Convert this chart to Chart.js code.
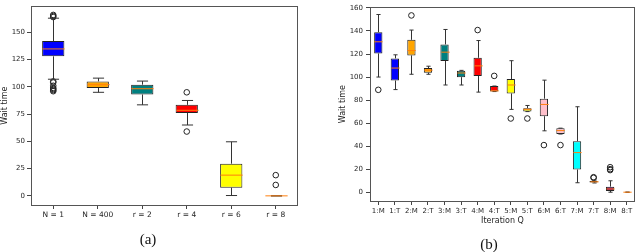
<!DOCTYPE html>
<html>
<head>
<meta charset="utf-8">
<script src="https://cdn.jsdelivr.net/npm/chart.js@4.4.1/dist/chart.umd.min.js"></script>
<style>
  html, body { margin: 0; padding: 0; background: #fff; width: 640px; height: 252px; overflow: hidden; }
  canvas { position: absolute; top: 0; }
  #ca { left: 0; }
  #cb { left: 320px; }
  .cap { position: absolute; font-family: "Liberation Serif", "DejaVu Serif", serif; font-size: 15px; color: #111; transform: translate(-50%, -50%); }
</style>
</head>
<body>
<canvas id="ca" width="320" height="252"></canvas>
<canvas id="cb" width="320" height="252"></canvas>
<div class="cap" style="left:148px; top:239px;">(a)</div>
<div class="cap" style="left:489px; top:244px;">(b)</div>
<script>
// ---------- Chart (a) ----------
const catsA = ['N = 1', 'N = 400', 'r = 2', 'r = 4', 'r = 6', 'r = 8'];
const q1A  = [128, 99, 93, 76, 7.5, 0];
const q3A  = [142, 105, 102, 83.5, 29.5, 0];
const medA = [134.8, 102, 98.3, 78.5, 19, 0];
const loA  = [107, 95, 83.5, 65, 0.3, 0];
const hiA  = [163, 108, 105.3, 87.5, 49.6, 0];
const outA = [[165, 164, 166, 105, 104, 101, 99, 98, 97, 96], [], [], [95, 59], [], [19, 10]];
const colorsA = ['#0000ff', '#ffa500', '#008080', '#ff0000', '#ffff00', '#800080'];
const yTicksA = [0, 25, 50, 75, 100, 125, 150];

// ---------- Chart (b) ----------
const catsB = ['1:M','1:T','2:M','2:T','3:M','3:T','4:M','4:T','5:M','5:T','6:M','6:T','7:M','7:T','8:M','8:T'];
const q1B  = [120.5, 97, 118.8, 103.8, 114, 99.9, 101, 87.4, 85.8, 70, 66, 50.5, 19.7, 8.5, 1.1, 0];
const q3B  = [139, 116.2, 132.3, 107.8, 128.3, 105.5, 116.7, 92.2, 98.2, 73, 81.2, 55.6, 44.3, 9.8, 4.8, 0];
const medB = [130.6, 107.8, 123, 106, 121.6, 103.5, 109.7, 88, 93.1, 72, 76.2, 53.5, 34.4, 9, 2.8, 0];
const loB  = [100, 89.1, 102.4, 102.4, 93.1, 93.1, 86.9, 87.4, 71.9, 70, 53.3, 50.5, 8.2, 8, 0, 0];
const hiB  = [154.3, 119.3, 140.8, 109.4, 141.3, 105.8, 131.7, 92.2, 114.2, 75.3, 97.3, 55.6, 74.2, 10.5, 9.9, 0];
const outB = [[88.9], [], [153.5], [], [], [], [140.8], [101], [64], [64], [40.9], [40.9], [], [13, 12.5], [20, 21.7, 19.2], []];
const colorsB = ['#0000ff','#0000ff','#ffa500','#ffa500','#008080','#008080','#ff0000','#ff0000',
                 '#ffff00','#ffff00','#ffc0cb','#ffc0cb','#00ffff','#00ffff','#800080','#800080'];
const yTicksB = [0, 20, 40, 60, 80, 100, 120, 140, 160];

const FONT = '"DejaVu Sans", sans-serif';
const TXT = '#262626';

const boxPlugin = {
  id: 'boxExtras',
  afterDatasetsDraw(chart, args, o) {
    const {ctx, scales: {x, y}, chartArea} = chart;
    const step = x.getPixelForValue(1) - x.getPixelForValue(0);
    const half = step * 0.25;
    ctx.save();
    ctx.lineWidth = 1;
    o.cats.forEach((c, i) => {
      const cx = Math.round(x.getPixelForValue(i)) + 0.5;
      const yq1 = y.getPixelForValue(o.q1[i]);
      const yq3 = y.getPixelForValue(o.q3[i]);
      const ylo = y.getPixelForValue(o.lo[i]);
      const yhi = y.getPixelForValue(o.hi[i]);
      ctx.strokeStyle = '#333';
      ctx.beginPath();
      ctx.moveTo(cx, yq3); ctx.lineTo(cx, yhi);
      ctx.moveTo(cx, yq1); ctx.lineTo(cx, ylo);
      ctx.moveTo(cx - half / 2, yhi); ctx.lineTo(cx + half / 2, yhi);
      ctx.moveTo(cx - half / 2, ylo); ctx.lineTo(cx + half / 2, ylo);
      ctx.stroke();
      const ym = y.getPixelForValue(o.med[i]);
      ctx.strokeStyle = '#ff7f0e';
      ctx.beginPath();
      ctx.moveTo(cx - half, ym); ctx.lineTo(cx + half, ym);
      ctx.stroke();
    });
    // frame
    ctx.strokeStyle = '#555';
    ctx.strokeRect(Math.round(chartArea.left) + 0.5, Math.round(chartArea.top) + 0.5,
                   Math.round(chartArea.right - chartArea.left) - 1, Math.round(chartArea.bottom - chartArea.top));
    ctx.restore();
  }
};

function makeChart(id, cats, q1, q3, med, lo, hi, out, colors, yTicks, cfg) {
  const boxes = cats.map((c, i) => [q1[i], q3[i]]);
  const pts = [];
  out.forEach((arr, i) => arr.forEach(v => pts.push({x: cats[i], y: v})));
  return new Chart(document.getElementById(id), {
    type: 'bar',
    data: {
      labels: cats,
      datasets: [
        { type: 'bar', data: boxes, backgroundColor: colors, borderColor: '#222', borderWidth: 1,
          borderSkipped: false, barPercentage: 0.5, categoryPercentage: 1.0, order: 2 },
        { type: 'scatter', data: pts, pointRadius: 2.8, pointBorderWidth: 1, pointBorderColor: '#222',
          pointBackgroundColor: 'rgba(0,0,0,0)', showLine: false, order: 1 }
      ]
    },
    options: {
      responsive: false, animation: false, devicePixelRatio: 1,
      layout: { padding: cfg.padding },
      plugins: { legend: { display: false }, tooltip: { enabled: false },
                 boxExtras: { cats, q1, q3, med, lo, hi } },
      scales: {
        x: {
          type: 'category', offset: true,
          afterFit: s => { s.height = cfg.xh; },
          grid: { display: true, offset: false, drawOnChartArea: false, drawTicks: true, tickLength: 4, color: '#444' },
          border: { display: false },
          ticks: { font: { family: FONT, size: cfg.xfs }, color: TXT, padding: 2, maxRotation: 0, autoSkip: false },
          title: cfg.xtitle ? { display: true, text: cfg.xtitle, font: { family: FONT, size: 8 }, color: TXT,
                   padding: { top: 0, bottom: cfg.xtpad } } : { display: false }
        },
        y: {
          min: cfg.ymin, max: cfg.ymax,
          afterFit: s => { s.width = cfg.yw; },
          afterBuildTicks: s => { s.ticks = yTicks.map(v => ({ value: v })); },
          grid: { display: true, drawOnChartArea: false, drawTicks: true, tickLength: 4, color: '#444' },
          border: { display: false },
          ticks: { font: { family: FONT, size: 7 }, color: TXT, padding: cfg.ytpad },
          title: { display: true, text: 'Wait time', font: { family: FONT, size: 8 }, color: TXT,
                   padding: { top: cfg.ytitlepad, bottom: 0 } }
        }
      }
    },
    plugins: [boxPlugin]
  });
}

makeChart('ca', catsA, q1A, q3A, medA, loA, hiA, outA, colorsA, yTicksA,
  { padding: { left: 0, right: 22, top: 5, bottom: 0 }, xh: 47, yw: 31, ymin: -8.4, ymax: 174,
    xfs: 7.5, ytpad: 2, ytitlepad: 0, xtitle: null, xtpad: 0 });

makeChart('cb', catsB, q1B, q3B, medB, loB, hiB, outB, colorsB, yTicksB,
  { padding: { left: 0, right: 1, top: 2, bottom: 0 }, xh: 51, yw: 50, ymin: -7.65, ymax: 160.65,
    xfs: 7, ytpad: 3, ytitlepad: 18, xtitle: 'Iteration Q', xtpad: 26 });
</script>
</body>
</html>
